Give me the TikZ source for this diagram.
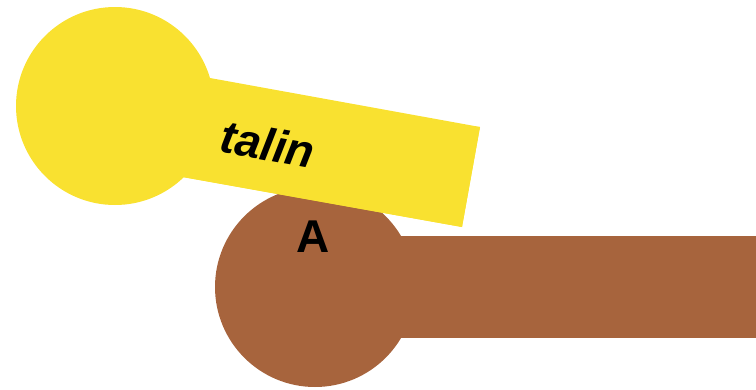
\documentclass[tikz,border=0pt]{standalone}
\usepackage{fontspec}
\setmainfont{Liberation Sans}
\definecolor{tyellow}{HTML}{F9E130}
\definecolor{abrown}{HTML}{A7643D}
\begin{document}
\begin{tikzpicture}[x=1pt,y=-1pt,
  lbl/.style={font=\fontsize{46}{46}\selectfont\bfseries, inner sep=0pt}]
\useasboundingbox (0,0) rectangle (756,389);
% brown shape
\fill[abrown] (315,287) circle[radius=100];
\fill[abrown] (315,236) rectangle (756,338);
% yellow shape
\fill[tyellow] (115,106) circle[radius=99];
\fill[tyellow] (115,90) -- (480,127) -- (462,227) -- (115,165) -- cycle;
\fill[tyellow] (210,78) -- (480,127) -- (462,227) -- (183,177) -- cycle;
\node[lbl, font=\fontsize{46}{46}\selectfont\bfseries\itshape, rotate=-10.3] (talin) at (268,144) {talin};
\node[lbl] (A) at (313,237) {A};
\end{tikzpicture}
\end{document}
